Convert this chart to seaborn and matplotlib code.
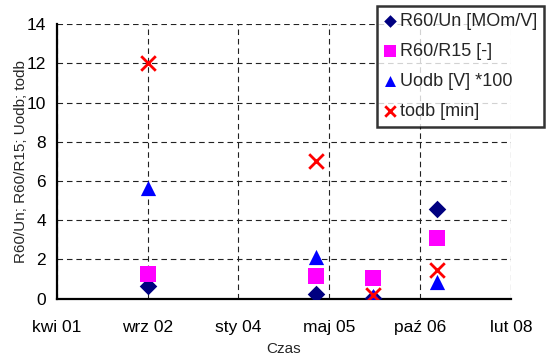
import matplotlib
matplotlib.use("Agg")
import matplotlib.pyplot as plt
import numpy as np
import pandas as pd
import seaborn as sns

# measurement dates
dates = ["2002-09-01", "2005-03-16", "2006-01-26", "2007-01-11"]

# measured series
r60_un = [0.65, 0.24, 0.05, 4.56]      # R60/Un [MOm/V]
r60_r15 = [1.26, 1.16, 1.07, 3.08]     # R60/R15 [-]
uodb = [5.62, 2.14, 0.15, 0.87]        # Uodb [V] *100
todb = [12.0, 7.0, 0.2, 1.46]          # todb [min]

series_names = ["R60/Un [MOm/V]", "R60/R15 [-]", "Uodb [V] *100", "todb [min]"]
tick_labels = ["kwi 01", "wrz 02", "sty 04", "maj 05", "paź 06", "lut 08"]

sns.set_theme(style="white")
plt.rcParams["font.family"] = ["Liberation Sans", "DejaVu Sans"]

x = pd.to_datetime(dates)
df = pd.DataFrame({"Czas": x, "r60_un": r60_un, "r60_r15": r60_r15,
                   "uodb": uodb, "todb": todb})

fig = plt.figure(figsize=(5.51, 3.59), dpi=100)
ax = fig.add_axes([0.1034, 0.168, 0.8236, 0.765])

styles = [
    ("r60_un", "D", "#000080", 80),
    ("r60_r15", "s", "#FF00FF", 130),
    ("uodb", "^", "#0000FF", 120),
    ("todb", "x", "#FF0000", 110),
]
for (col, mk, colr, size), name in zip(styles, series_names):
    kw = dict(linewidth=2) if mk == "x" else dict(linewidth=0)
    sns.scatterplot(data=df, x="Czas", y=col, marker=mk, color=colr, s=size,
                    ax=ax, label=name, zorder=3, **kw)

# date axis: ticks every 500 days
origin = pd.Timestamp("1899-12-30")
tick_dates = [origin + pd.Timedelta(days=37000 + 500 * i) for i in range(len(tick_labels))]
ax.set_xlim(tick_dates[0], tick_dates[-1])
ax.set_xticks(tick_dates)
ax.set_xticklabels(tick_labels)
ax.set_ylim(0, 14)
ax.set_yticks(np.arange(0, 15, 2))

ax.grid(True, color="#222222", linestyle=(0, (5, 3.5)), linewidth=0.8)
for side in ["top", "right"]:
    ax.spines[side].set_visible(False)
for side in ["left", "bottom"]:
    ax.spines[side].set_color("black")
    ax.spines[side].set_linewidth(1.6)
ax.tick_params(axis="both", direction="out", length=5, width=1.4, color="black",
               labelsize=12.5, labelcolor="black", pad=3)
ax.tick_params(axis="x", pad=10)

ax.set_xlabel("Czas", fontsize=11)
ax.xaxis.label.set_va("center")
ax.xaxis.set_label_coords(0.5, -0.183)
ax.set_ylabel("R60/Un; R60/R15; Uodb; todb", fontsize=11)
ax.yaxis.label.set_va("center")
ax.yaxis.set_label_coords(-0.08, 0.5)

if ax.legend_:
    ax.legend_.remove()
handles, labels = ax.get_legend_handles_labels()
leg = fig.legend(handles, labels, loc="upper left",
                 bbox_to_anchor=(377 / 551, 1 - 6 / 359), fontsize=13,
                 frameon=True, fancybox=False, edgecolor="black",
                 markerscale=0.72, handlelength=0.6, handletextpad=0.25,
                 labelspacing=0.72, borderpad=0.4, borderaxespad=0)
leg.get_frame().set_linewidth(1.8)

fig.savefig("out.png", dpi=100)
